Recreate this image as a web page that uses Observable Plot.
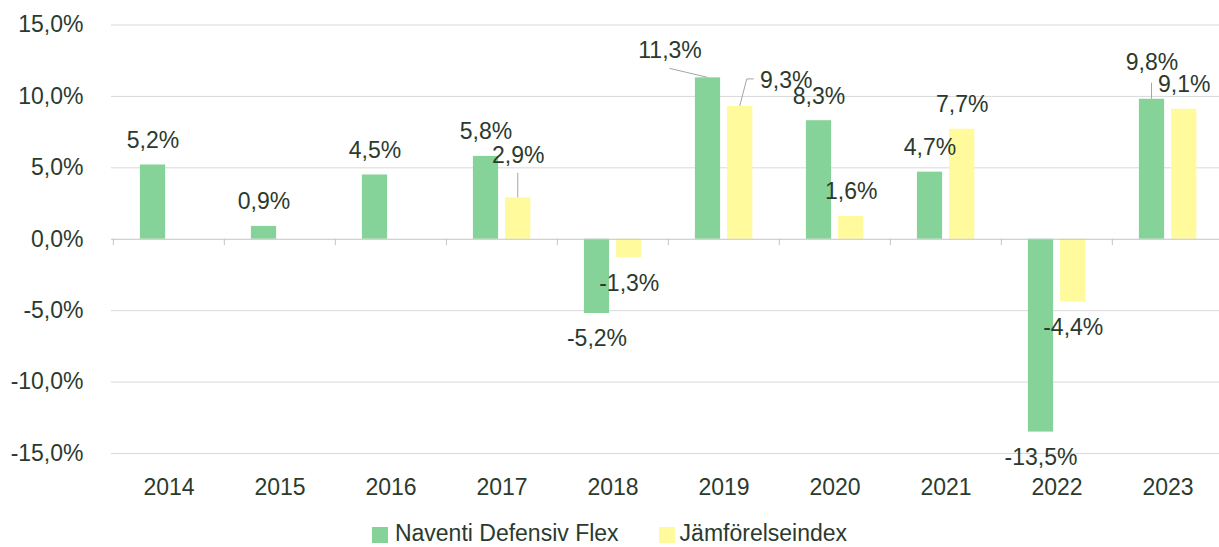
<!DOCTYPE html>
<html>
<head>
<meta charset="utf-8">
<script src="https://cdn.jsdelivr.net/npm/d3@7"></script>
<script src="https://cdn.jsdelivr.net/npm/@observablehq/plot@0.6"></script>
<style>
  html, body { margin: 0; padding: 0; background: #ffffff; }
  body { width: 1219px; height: 547px; position: relative; overflow: hidden;
         font-family: "Liberation Sans", Arial, Helvetica, sans-serif; color: #2b3a2e; }
  #chart { position: absolute; left: 0; top: 0; }
  #legend { position: absolute; left: 0; top: 522px; width: 1219px; height: 23px; line-height: 23px;
            display: flex; justify-content: center; align-items: center; font-size: 23px; }
  .item { display: flex; align-items: center; line-height: 23px; }
  .sw { width: 16px; height: 16px; display: inline-block; position: relative; top: 1px; }
</style>
</head>
<body>
<div id="chart"></div>
<div id="legend"></div>
<script>
// ---- data ----
const years = [2014, 2015, 2016, 2017, 2018, 2019, 2020, 2021, 2022, 2023];
const naventi = [5.2, 0.9, 4.5, 5.8, -5.2, 11.3, 8.3, 4.7, -13.5, 9.8];
const jamfor  = [null, null, null, 2.9, -1.3, 9.3, 1.6, 7.7, -4.4, 9.1];
const seriesNames = ["Naventi Defensiv Flex", "Jämförelseindex"];
const seriesColors = ["#86d399", "#fffa9b"];
const yTicks = [-15, -10, -5, 0, 5, 10, 15];

// ---- layout ----
const W = 1219, H = 505;
const xRange = [111, 1224];
const step = (xRange[1] - xRange[0]) / years.length;
const barWidth = 25.5;
const seriesCenter = [-16, 16.25]; // offset from band centre
const textColor = "#2b3a2e";
const fontSize = 23;

// label nudges beyond the default placement (layout only)
const labelNudges = {
  "Naventi Defensiv Flex|2019": [-38, -2.5],
  "Naventi Defensiv Flex|2023": [0, -12.5],
  "Jämförelseindex|2017": [0, -18],
  "Jämförelseindex|2019": [46, -1]
};
// leader lines, pixel points relative to bar top centre
const leaders = [
  {s: 0, year: 2019, pts: [[-38, -9], [0, 0]]},
  {s: 0, year: 2023, pts: [[0, -16], [0, 0]]},
  {s: 1, year: 2017, pts: [[0, -24.5], [0, 0]]},
  {s: 1, year: 2019, pts: [[0, 0], [7, -27], [14, -27]]}
];

const fmtAxis = d => d.toFixed(1).replace(".", ",") + "%";
const fmtVal = d => d.toFixed(1).replace(".", ",") + "%";

const series = [naventi, jamfor];
const rows = [];
years.forEach((yr, i) => {
  series.forEach((arr, s) => {
    if (arr[i] != null) rows.push({year: yr, s, series: seriesNames[s], value: arr[i]});
  });
});

const barMarks = seriesNames.map((name, s) => {
  const c = step / 2 + seriesCenter[s];
  return Plot.barY(rows.filter(d => d.s === s), {
    x: "year", y1: 0, y2: "value", fill: seriesColors[s],
    insetLeft: c - barWidth / 2, insetRight: step - (c + barWidth / 2)
  });
});

const labelMarks = rows.map(d => {
  const n = labelNudges[d.series + "|" + d.year] || [0, 0];
  return Plot.text([d], {
    x: "year", y: "value", text: r => fmtVal(r.value),
    dx: seriesCenter[d.s] + n[0],
    dy: (d.value >= 0 ? -24.5 : 25.5) + n[1],
    fill: textColor, fontSize, lineAnchor: "middle"
  });
});

const leaderMark = (index, scales) => {
  const g = d3.create("svg:g").attr("stroke", "#a6a6a6").attr("fill", "none").attr("stroke-width", 1);
  const bw = scales.x.bandwidth ? scales.x.bandwidth() : step;
  for (const l of leaders) {
    const i = years.indexOf(l.year);
    const v = series[l.s][i];
    const x0 = scales.x(l.year) + bw / 2 + seriesCenter[l.s];
    const y0 = scales.y(v);
    g.append("path").attr("d", d3.line()(l.pts.map(p => [x0 + p[0], y0 + p[1]])));
  }
  return g.node();
};

const chart = Plot.plot({
  width: W, height: H,
  marginLeft: xRange[0], marginRight: 0, marginTop: 24.5, marginBottom: 52,
  style: {fontFamily: '"Liberation Sans", Arial, Helvetica, sans-serif', fontSize: fontSize + "px", color: textColor, background: "#ffffff"},
  x: {type: "band", domain: years, range: xRange, padding: 0, label: null},
  y: {domain: [-15, 15], range: [453, 24.5], label: null},
  marks: [
    Plot.gridY(yTicks.filter(t => t !== 0), {stroke: "#d9d9d9", strokeOpacity: 1}),
    ...barMarks,
    Plot.ruleY([0], {stroke: "#c4c4c4"}),
    Plot.ruleX(years, {x: d => d, dx: -step / 2, y1: 0, y2: -0.45, stroke: "#c4c4c4"}),
    leaderMark,
    ...labelMarks,
    Plot.axisY({ticks: yTicks, tickSize: 0, tickPadding: 28, tickFormat: fmtAxis, label: null, fill: textColor}),
    Plot.axisX({tickSize: 0, tickPadding: 25.5, tickFormat: d => String(d), label: null, fill: textColor})
  ]
});
document.getElementById("chart").appendChild(chart);

// legend
const legend = document.getElementById("legend");
seriesNames.forEach((name, s) => {
  const item = document.createElement("div");
  item.className = "item";
  if (s > 0) item.style.marginLeft = "40px";
  const sw = document.createElement("span");
  sw.className = "sw";
  sw.style.background = seriesColors[s];
  sw.style.marginRight = s === 0 ? "7px" : "5px";
  const t = document.createElement("span");
  t.textContent = name;
  item.appendChild(sw);
  item.appendChild(t);
  legend.appendChild(item);
});
</script>
</body>
</html>
